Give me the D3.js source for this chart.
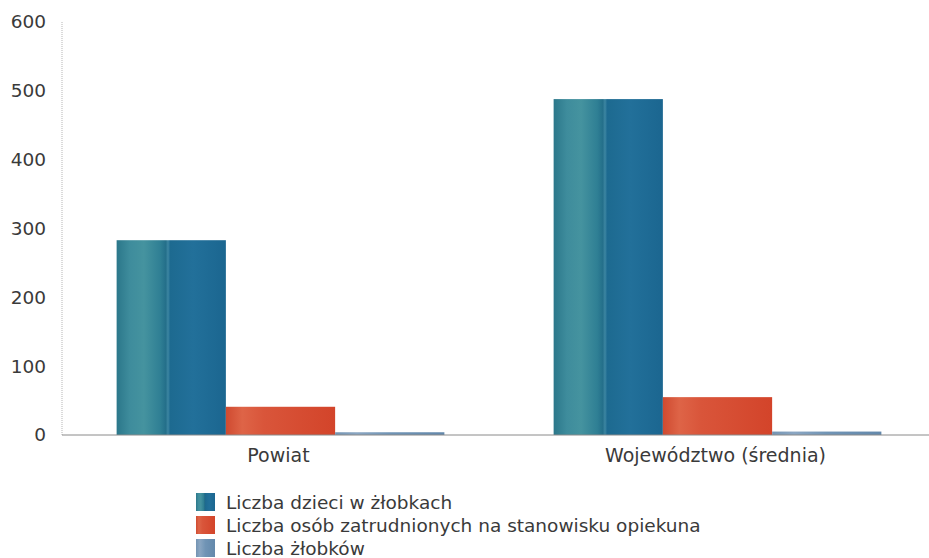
<!DOCTYPE html>
<html>
<head>
<meta charset="utf-8">
<script src="https://cdn.jsdelivr.net/npm/d3@7"></script>
<style>
  body { margin:0; background:#fff; }
  svg text { font-family: "DejaVu Sans", Verdana, sans-serif; fill:#3a3a3a; }
</style>
</head>
<body>
<div id="chart"></div>
<script>
// chart data
var categories = ["Powiat", "Województwo (średnia)"];
var seriesNames = ["Liczba dzieci w żłobkach", "Liczba osób zatrudnionych na stanowisku opiekuna", "Liczba żłobków"];
var children = [283, 488];
var staff = [41, 55];
var nurseries = [4, 5];
var yTicks = [0, 100, 200, 300, 400, 500, 600];

var width = 929, height = 558;
var plotLeft = 62, plotTop = 22, plotBottom = 435;

var svg = d3.select("#chart").append("svg")
  .attr("width", width)
  .attr("height", height);

// gradients give the bars their shaded look
var defs = svg.append("defs");
var grads = [
  { id: "g0", stops: [[0, "#2b778a"], [0.12, "#3e8c9c"], [0.25, "#45939f"], [0.4, "#2f7f94"], [0.45, "#246f8a"], [0.47, "#3d86a2"], [0.49, "#1d6a90"], [0.7, "#22709a"], [1, "#1b6690"]] },
  { id: "g1", stops: [[0, "#cf4a30"], [0.15, "#de6447"], [0.35, "#d9553a"], [1, "#d3442a"]] },
  { id: "g2", stops: [[0, "#7394b3"], [0.2, "#8aa6c2"], [0.5, "#7094b5"], [1, "#6388ab"]] }
];
grads.forEach(function (g) {
  var lg = defs.append("linearGradient").attr("id", g.id)
    .attr("x1", "0%").attr("x2", "100%").attr("y1", "0%").attr("y2", "0%");
  g.stops.forEach(function (s) {
    lg.append("stop").attr("offset", s[0]).attr("stop-color", s[1]);
  });
});

var y = d3.scaleLinear().domain([0, 600]).range([plotBottom, plotTop]);
var x0 = d3.scaleBand().domain(categories).range([plotLeft, 936]).paddingInner(0.25).paddingOuter(0.125);
var x1 = d3.scaleBand().domain(seriesNames).range([0, x0.bandwidth()]);

// y axis: dotted line + labels
var yAxis = d3.axisLeft(y).tickValues(yTicks).tickSize(0).tickPadding(16);
var gy = svg.append("g").attr("transform", "translate(" + plotLeft + ",0)").call(yAxis);
gy.select(".domain").remove();
gy.selectAll("text").style("font-size", "18.5px").style("fill", "#3a3a3a")
  .style("font-family", "'DejaVu Sans', Verdana, sans-serif");
svg.append("line")
  .attr("x1", plotLeft).attr("x2", plotLeft).attr("y1", plotTop).attr("y2", plotBottom)
  .attr("stroke", "#b5b5b5").attr("stroke-width", 1).attr("stroke-dasharray", "1,1");

// bars
var rows = categories.map(function (c, i) {
  return { cat: c, vals: [children[i], staff[i], nurseries[i]] };
});
var groups = svg.selectAll(".grp").data(rows).enter().append("g")
  .attr("class", "grp")
  .attr("transform", function (d) { return "translate(" + x0(d.cat) + ",0)"; });
groups.selectAll("rect")
  .data(function (d) { return d.vals.map(function (v, j) { return { s: seriesNames[j], v: v, j: j }; }); })
  .enter().append("rect")
  .attr("x", function (d) { return x1(d.s); })
  .attr("y", function (d) { return y(d.v); })
  .attr("width", x1.bandwidth())
  .attr("height", function (d) { return y(0) - y(d.v); })
  .attr("fill", function (d) { return "url(#g" + d.j + ")"; });

// x axis line
svg.append("line")
  .attr("x1", plotLeft).attr("x2", width).attr("y1", plotBottom).attr("y2", plotBottom)
  .attr("stroke", "#8a8a8a").attr("stroke-width", 1);

// category labels
svg.selectAll(".cat").data(categories).enter().append("text")
  .attr("class", "cat")
  .attr("x", function (d) { return x0(d) + x0.bandwidth() / 2 - 2; })
  .attr("y", 462)
  .attr("text-anchor", "middle")
  .style("font-size", "19px")
  .text(function (d) { return d; });

// legend
var legend = svg.append("g").attr("transform", "translate(196,493)");
var leg = legend.selectAll("g").data(seriesNames).enter().append("g")
  .attr("transform", function (d, i) { return "translate(0," + (i * 23) + ")"; });
leg.append("rect")
  .attr("width", 19).attr("height", 18)
  .attr("fill", function (d, i) { return "url(#g" + i + ")"; });
leg.append("text")
  .attr("x", 30).attr("y", 16)
  .style("font-size", "18.5px")
  .text(function (d) { return d; });
</script>
</body>
</html>
